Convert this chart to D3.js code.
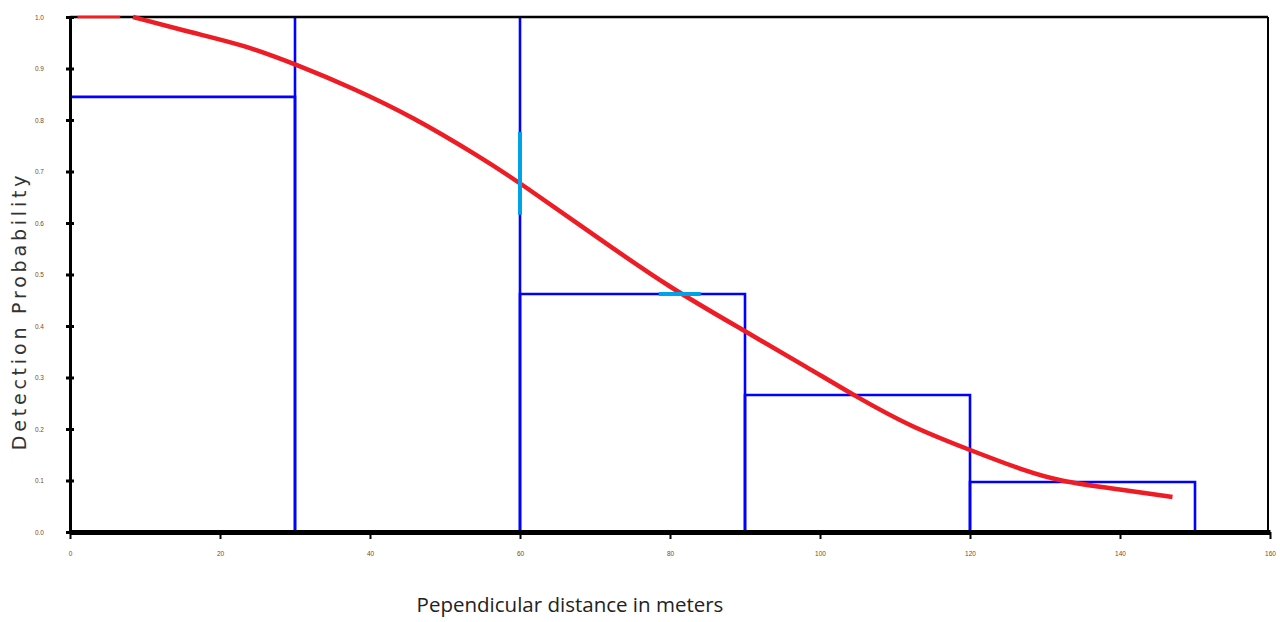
<!DOCTYPE html>
<html>
<head>
<meta charset="utf-8">
<script src="https://cdn.jsdelivr.net/npm/d3@7"></script>
<style>
  html, body { margin: 0; padding: 0; background: #ffffff; }
  svg { display: block; }
</style>
</head>
<body>
<svg id="chart" width="1280" height="622"></svg>
<script>
// ---- data ----
const binEdges = [0, 30, 60, 90, 120, 150];
const binValues = [0.845, 1.05, 0.462, 0.266, 0.097];   // bin 2 exceeds the plot and is clipped
const curveDist = [8.4, 16.4, 23.1, 30.3, 37.7, 45.7, 54.7, 60, 70.7, 80, 89.3, 98.5, 104.9, 112, 120, 127.6, 132, 138.7, 147];
const curveProb = [1.0, 0.969, 0.946, 0.907, 0.862, 0.806, 0.728, 0.678, 0.568, 0.474, 0.396, 0.318, 0.262, 0.205, 0.159, 0.117, 0.099, 0.085, 0.068];
const flatDist = [1, 6.7];
const flatProb = [1.0, 1.0];
const cyanV = {x: 60, y0: 0.616, y1: 0.777};
const cyanH = {y: 0.462, x0: 78.5, x1: 84.1};
const xTicks = [0, 20, 40, 60, 80, 100, 120, 140, 160];
const yTicks = [0, 0.1, 0.2, 0.3, 0.4, 0.5, 0.6, 0.7, 0.8, 0.9, 1.0];
const xTitle = "Pependicular distance in meters";
const yTitle = "Detection Probability";

// ---- layout ----
const svg = d3.select("#chart");
const L = 70, R = 1268, T = 17, B = 532;
const x = d3.scaleLinear().domain([0, 160]).range([L, 1270]);
const y = d3.scaleLinear().domain([0, 1]).range([B, T]);

svg.append("clipPath").attr("id", "plotclip")
  .append("rect").attr("x", L + 1.5).attr("y", T).attr("width", R - L + 6).attr("height", B - T + 4);

const plot = svg.append("g").attr("clip-path", "url(#plotclip)");

// histogram outlines
const bins = binValues.map((v, i) => ({x0: binEdges[i], x1: binEdges[i + 1], v}));
plot.selectAll("path.bin").data(bins).join("path")
  .attr("class", "bin")
  .attr("d", d => `M${x(d.x0)},${y(0)}V${y(d.v)}H${x(d.x1)}V${y(0)}`)
  .attr("fill", "none").attr("stroke", "#0000ff").attr("stroke-width", 2.6);

// top border
svg.append("line").attr("x1", L).attr("x2", R).attr("y1", T).attr("y2", T)
  .attr("stroke", "#000").attr("stroke-width", 2.5);
// right border
svg.append("line").attr("x1", R).attr("x2", R).attr("y1", T).attr("y2", B)
  .attr("stroke", "#000").attr("stroke-width", 2);

// thin flat red start
const line = d3.line().x(d => x(d[0])).y(d => y(d[1]));
svg.append("path").datum(flatDist.map((d, i) => [d, flatProb[i]]))
  .attr("d", line).attr("fill", "none").attr("stroke", "#ff1a1a").attr("stroke-width", 2.5);

// red detection curve
svg.append("path").datum(curveDist.map((d, i) => [d, curveProb[i]]))
  .attr("d", d3.line().x(d => x(d[0])).y(d => y(d[1])).curve(d3.curveBasis))
  .attr("fill", "none").attr("stroke", "#ee1c25").attr("stroke-width", 4.5);

// cyan markers
svg.append("line").attr("x1", x(cyanV.x)).attr("x2", x(cyanV.x)).attr("y1", y(cyanV.y0)).attr("y2", y(cyanV.y1))
  .attr("stroke", "#00a2e8").attr("stroke-width", 4);
svg.append("line").attr("x1", x(cyanH.x0)).attr("x2", x(cyanH.x1)).attr("y1", y(cyanH.y)).attr("y2", y(cyanH.y))
  .attr("stroke", "#00a2e8").attr("stroke-width", 4);

// y axis
const yAxis = svg.append("g").attr("transform", `translate(${L},0)`)
  .call(d3.axisLeft(y).tickValues(yTicks).tickFormat(d3.format(".1f")).tickSize(4).tickSizeOuter(0).tickPadding(22));
yAxis.select(".domain").attr("stroke", "#000").attr("stroke-width", 3);
yAxis.selectAll(".tick line").attr("stroke", "#000").attr("stroke-width", 3).attr("x2", 4).attr("x1", -4);
yAxis.selectAll(".tick text").attr("font-family", "Liberation Sans, Arial, sans-serif").attr("font-size", 6.5).attr("fill", "#7a4a1a");

// x axis
const xAxis = svg.append("g").attr("transform", `translate(0,${B})`)
  .call(d3.axisBottom(x).tickValues(xTicks).tickSize(7).tickSizeOuter(0).tickPadding(12));
xAxis.select(".domain").attr("stroke", "#000").attr("stroke-width", 5);
xAxis.selectAll(".tick line").attr("stroke", "#000").attr("stroke-width", 2);
xAxis.selectAll(".tick text").attr("font-family", "Liberation Sans, Arial, sans-serif").attr("font-size", 6.5).attr("fill", "#7a4a1a");

// titles
svg.append("text").attr("x", 570).attr("y", 612).attr("text-anchor", "middle")
  .attr("font-family", "Open Sans, Liberation Sans, sans-serif").attr("font-size", 20.5).attr("fill", "#222")
  .text(xTitle);
svg.append("text").attr("transform", "translate(26,311) rotate(-90)").attr("text-anchor", "middle")
  .attr("font-family", "DejaVu Sans, sans-serif").attr("font-size", 19).attr("fill", "#333")
  .attr("letter-spacing", 3.8)
  .text(yTitle);
</script>
</body>
</html>
